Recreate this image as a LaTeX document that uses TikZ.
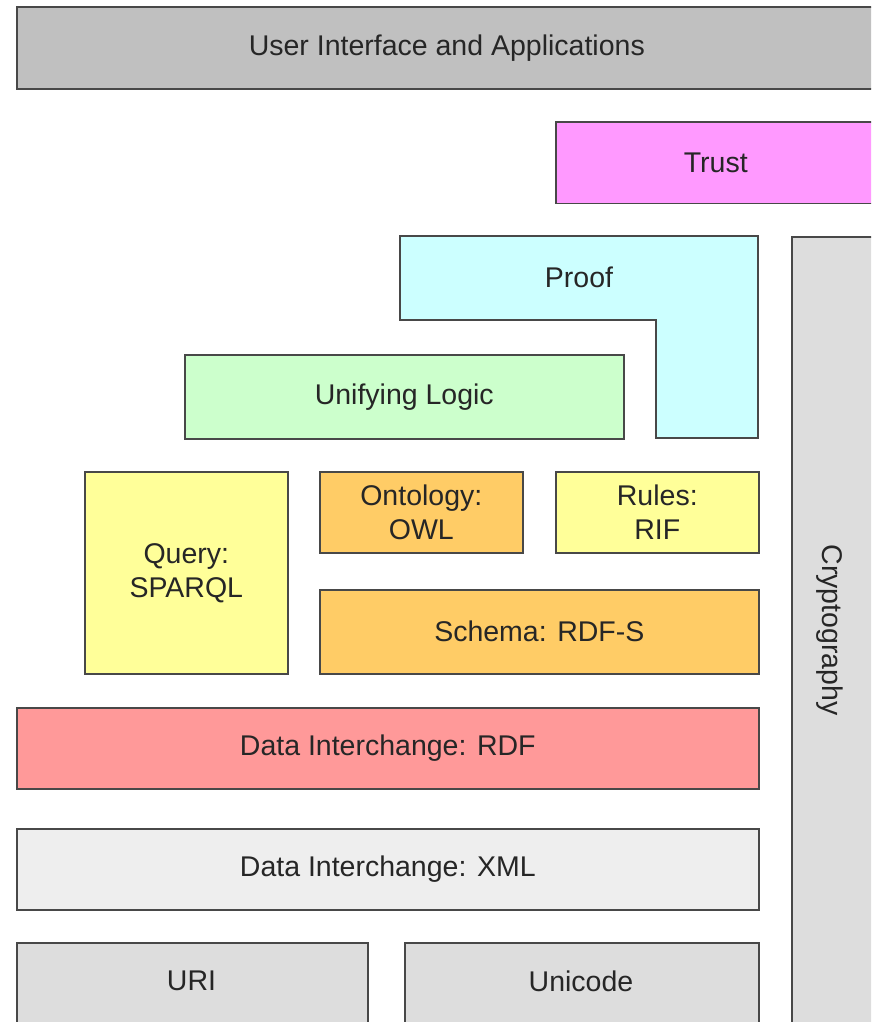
\documentclass[tikz,border=0pt]{standalone}
\usepackage{fontspec}
\setmainfont{Liberation Sans}
\begin{document}
\begin{tikzpicture}[x=1pt,y=-1pt,
  txt/.style={text=txtcol, font=\fontsize{28.5}{34}\selectfont, align=center},
  layer/.style={txt, draw=edgecol, line width=1.6pt, anchor=north west, inner sep=0pt},
  ]
\definecolor{edgecol}{HTML}{484848}
\definecolor{txtcol}{HTML}{262626}
\definecolor{cgray}{HTML}{C0C0C0}
\definecolor{ctrust}{HTML}{FF99FF}
\definecolor{cproof}{HTML}{CCFFFF}
\definecolor{clogic}{HTML}{CCFFCC}
\definecolor{cyellow}{HTML}{FFFF99}
\definecolor{corange}{HTML}{FFCC66}
\definecolor{crdf}{HTML}{FF9999}
\definecolor{cxml}{HTML}{EEEEEE}
\definecolor{clight}{HTML}{DDDDDD}
\useasboundingbox (0,0) rectangle (871,1022);
\clip (0,0) rectangle (871,1022);
\fill[white] (0,0) rectangle (871,1022);
\node[layer, fill=cgray, minimum width=860pt, minimum height=82pt] (ui) at (16,6.5) {User Interface and Applications};
\node[layer, fill=ctrust, minimum width=320pt, minimum height=81pt] (trust) at (555,121.5) {Trust};
\node[layer, fill=clight, minimum width=90pt, minimum height=800pt] (crypto) at (791,236) {};
\node[txt, rotate=-90] (cryptotext) at (829.5,630) {Cryptography};
\draw[draw=edgecol, line width=1.6pt, fill=cproof]
  (400,236) -- (758,236) -- (758,438) -- (656,438) -- (656,320) -- (400,320) -- cycle;
\node[txt] (proof) at (579,277) {Proof};
\node[layer, fill=clogic, minimum width=439pt, minimum height=84pt] (logic) at (184,354) {Unifying Logic};
\node[layer, fill=cyellow, minimum width=203pt, minimum height=202pt] (query) at (84,471) {Query:\\SPARQL};
\node[layer, fill=corange, minimum width=203pt, minimum height=81pt] (owl) at (319,471) {Ontology:\\OWL};
\node[layer, fill=cyellow, minimum width=203pt, minimum height=81pt] (rif) at (555,471) {Rules:\\RIF};
\node[layer, fill=corange, minimum width=439pt, minimum height=84pt] (rdfs) at (319,589) {Schema: RDF-S};
\node[layer, fill=crdf, minimum width=742pt, minimum height=81pt] (rdf) at (16,707) {Data Interchange: RDF};
\node[layer, fill=cxml, minimum width=742pt, minimum height=81pt] (xml) at (16,828) {Data Interchange: XML};
\node[layer, fill=clight, minimum width=351pt, minimum height=100pt] (uri) at (16,942) {};
\node[txt] (uritext) at (191.5,981) {URI};
\node[layer, fill=clight, minimum width=354pt, minimum height=100pt] (unicode) at (404,942) {};
\node[txt] (unicodetext) at (581,981) {Unicode};
\end{tikzpicture}
\end{document}
